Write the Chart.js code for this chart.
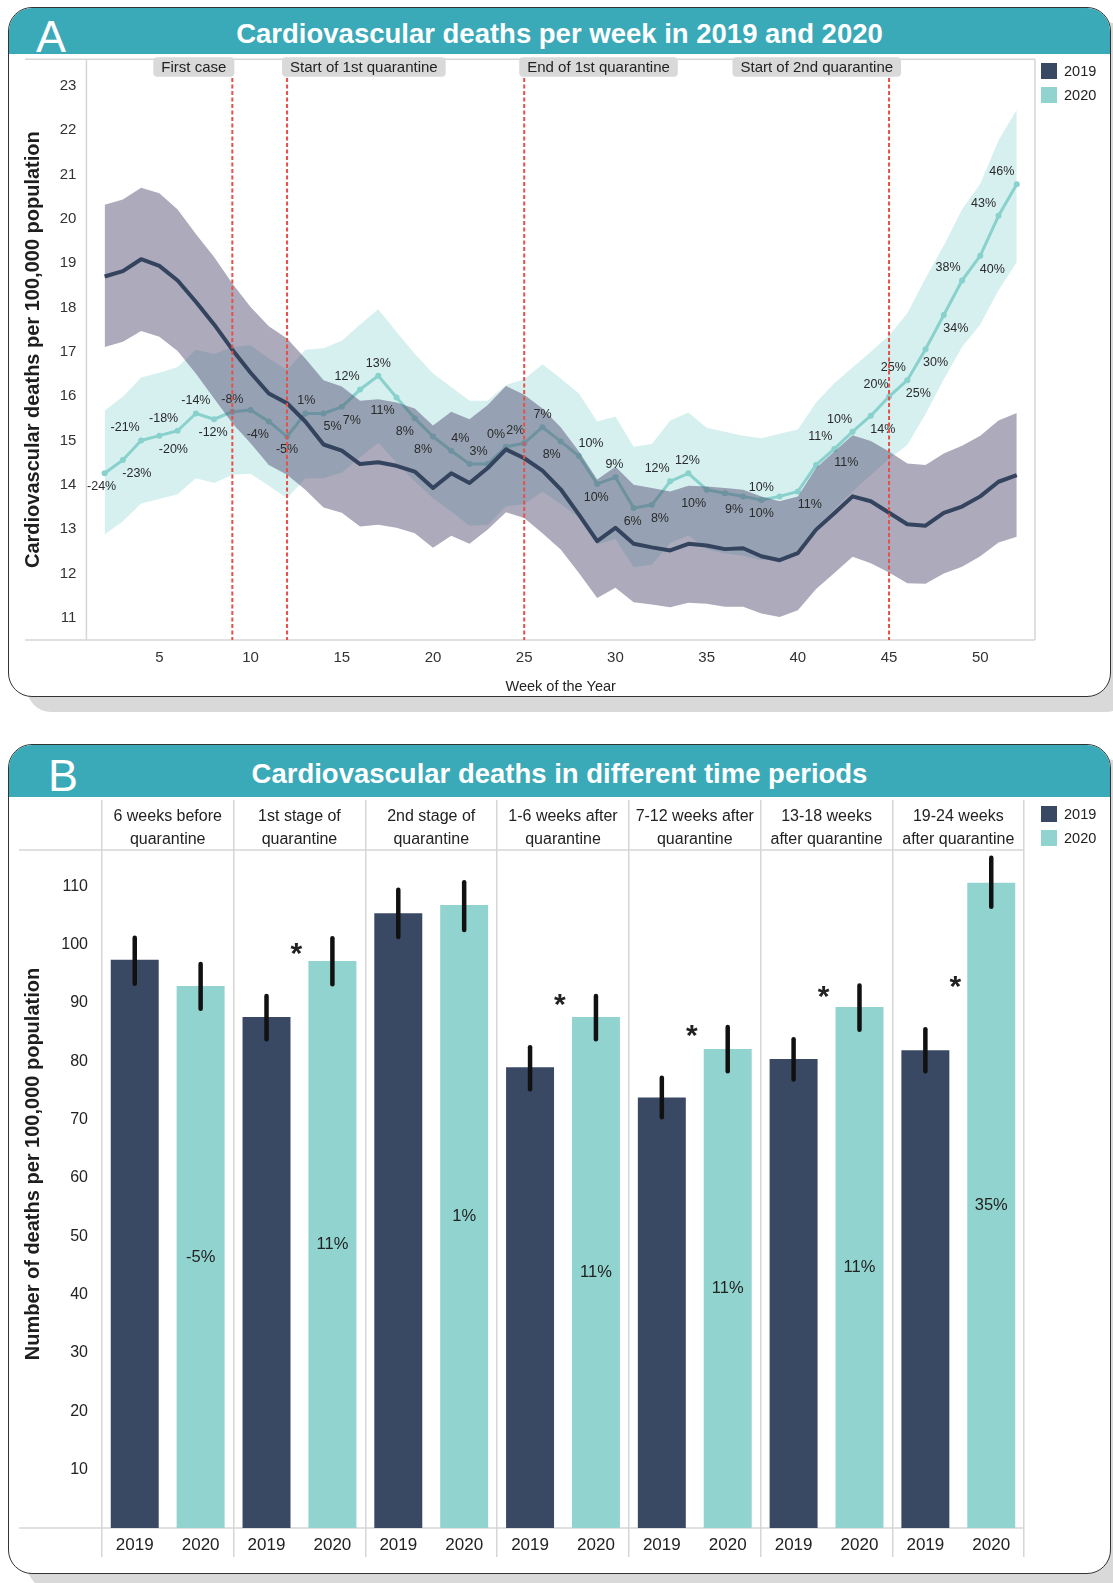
<!DOCTYPE html>
<html>
<head>
<meta charset="utf-8">
<title>Cardiovascular deaths 2019 and 2020</title>
<script src="https://cdn.jsdelivr.net/npm/chart.js@4.4.1/dist/chart.umd.min.js"></script>
<style>
  html, body { margin: 0; padding: 0; }
  body { width: 1113px; height: 1583px; position: relative; overflow: hidden; background: #fff;
         font-family: "Liberation Sans", Arial, Helvetica, sans-serif; color: #222; }
  .panel { position: absolute; left: 8px; width: 1103px; box-sizing: border-box; background: #fff;
           border: 1.5px solid #333; border-radius: 24px; box-shadow: 19px 15px 0 0 #d9d9d9; overflow: hidden; }
  #panelA { top: 7px; height: 690px; }
  #panelB { top: 744px; height: 830px; }
  .band { position: absolute; left: 0; right: 0; top: 0; background: #3aa9b8; color: #fff; }
  #panelA .band { height: 45.5px; }
  #panelB .band { height: 51.5px; }
  .letter { position: absolute; top: 0; font-size: 45px; }
  .title { position: absolute; left: 0; right: 0; top: 0; text-align: center; font-size: 27.5px; font-weight: bold; }
  #panelA .letter { left: 27px; line-height: 58px; }
  #panelA .title { line-height: 51px; }
  #panelB .letter { left: 39px; line-height: 61px; }
  #panelB .title { line-height: 57px; }
  .plot { position: absolute; left: 9px; width: 1101px; }
  #boxA { top: 55px; height: 641px; }
  #boxB { top: 798px; height: 774px; }
  .legend { position: absolute; left: 1041px; font-size: 14.5px; color: #222; }
  .legend .item { position: relative; height: 24px; width: 60px; }
  .legend .sw { position: absolute; left: 0; top: 0; width: 16px; height: 16px; }
  .legend .tx { position: absolute; left: 23px; top: 0; line-height: 17px; }
</style>
</head>
<body>
<div class="panel" id="panelA">
  <div class="band"><span class="letter">A</span><div class="title">Cardiovascular deaths per week in 2019 and 2020</div></div>
</div>
<div class="panel" id="panelB">
  <div class="band"><span class="letter">B</span><div class="title">Cardiovascular deaths in different time periods</div></div>
</div>
<div class="plot" id="boxA"><canvas id="chartA"></canvas></div>
<div class="plot" id="boxB"><canvas id="chartB"></canvas></div>
<div class="legend" id="legendA" style="top:63px"></div>
<div class="legend" id="legendB" style="top:806px"></div>

<script>
// ---- panel A: weekly series ----
const weeks = [2, 3, 4, 5, 6, 7, 8, 9, 10, 11, 12, 13, 14, 15, 16, 17, 18, 19, 20, 21, 22, 23, 24, 25, 26, 27,
  28, 29, 30, 31, 32, 33, 34, 35, 36, 37, 38, 39, 40, 41, 42, 43, 44, 45, 46, 47, 48, 49, 50, 51, 52];

const deaths2019 = [18.70, 18.82, 19.09, 18.94, 18.61, 18.13, 17.62, 17.05, 16.53, 16.06,
  15.84, 15.43, 14.91, 14.77, 14.47, 14.51, 14.43, 14.30, 13.93, 14.26,
  14.04, 14.38, 14.80, 14.60, 14.32, 13.90, 13.33, 12.73, 13.03, 12.67,
  12.59, 12.52, 12.67, 12.63, 12.55, 12.57, 12.39, 12.30, 12.46, 12.99,
  13.36, 13.74, 13.63, 13.37, 13.11, 13.08, 13.37, 13.51, 13.74, 14.07, 14.22];
const upper2019 = [20.32, 20.44, 20.70, 20.58, 20.21, 19.66, 19.14, 18.54, 18.01, 17.58,
  17.30, 16.85, 16.36, 16.22, 15.90, 15.93, 15.86, 15.72, 15.34, 15.65,
  15.48, 15.80, 16.23, 16.03, 15.72, 15.30, 14.75, 14.12, 14.41, 14.00,
  13.93, 13.85, 13.98, 13.96, 13.93, 13.89, 13.74, 13.63, 13.74, 14.38,
  14.75, 15.12, 14.99, 14.75, 14.48, 14.45, 14.71, 14.88, 15.11, 15.45, 15.62];
const lower2019 = [17.11, 17.23, 17.47, 17.34, 17.02, 16.51, 15.95, 15.39, 14.94, 14.45,
  14.23, 13.89, 13.49, 13.37, 13.06, 13.10, 13.03, 12.91, 12.58, 12.85,
  12.67, 12.99, 13.38, 13.25, 12.91, 12.54, 12.01, 11.45, 11.68, 11.35,
  11.30, 11.24, 11.34, 11.32, 11.25, 11.25, 11.10, 11.02, 11.17, 11.65,
  12.01, 12.38, 12.23, 12.02, 11.78, 11.77, 12.00, 12.15, 12.39, 12.70, 12.83];

const deaths2020 = [14.26, 14.56, 15.00, 15.11, 15.22, 15.61, 15.48, 15.65, 15.69, 15.43,
  15.09, 15.61, 15.61, 15.76, 16.15, 16.46, 15.97, 15.50, 15.09, 14.77,
  14.47, 14.47, 14.86, 14.94, 15.30, 14.98, 14.65, 14.02, 14.17, 13.48,
  13.55, 14.08, 14.26, 13.89, 13.81, 13.74, 13.66, 13.74, 13.85, 14.45,
  14.81, 15.20, 15.56, 15.99, 16.36, 17.06, 17.83, 18.61, 19.17, 20.07, 20.78];
const upper2020 = [15.68, 15.99, 16.42, 16.53, 16.66, 17.05, 16.95, 17.11, 17.15, 16.85,
  16.59, 17.05, 17.08, 17.25, 17.62, 17.96, 17.45, 16.96, 16.51, 16.21,
  15.90, 15.90, 16.25, 16.38, 16.72, 16.40, 16.06, 15.43, 15.54, 14.86,
  14.92, 15.45, 15.63, 15.29, 15.20, 15.11, 15.05, 15.15, 15.25, 15.86,
  16.29, 16.65, 17.00, 17.37, 17.87, 18.66, 19.40, 20.21, 20.79, 21.77, 22.46];
const lower2020 = [12.88, 13.18, 13.58, 13.68, 13.79, 14.15, 14.04, 14.23, 14.25, 13.98,
  13.70, 14.15, 14.15, 14.28, 14.62, 14.95, 14.50, 14.08, 13.70, 13.40,
  13.08, 13.10, 13.52, 13.56, 13.85, 13.57, 13.26, 12.66, 12.78, 12.14,
  12.20, 12.69, 12.86, 12.55, 12.45, 12.40, 12.30, 12.35, 12.45, 13.05,
  13.45, 13.85, 14.22, 14.59, 14.90, 15.60, 16.38, 17.11, 17.62, 18.39, 19.02];

// change vs 2019 printed above / below the 2020 line
const changeAbove = [null, null, '-21%', null, '-18%', '-14%', null, '-8%', null, null,
  null, '1%', null, null, '12%', '13%', null, null, null, '4%',
  '3%', null, '0%', '2%', '7%', null, '10%', null, '9%', null,
  null, '12%', '12%', null, null, null, '10%', null, null, null,
  '11%', '10%', null, '20%', '25%', null, null, '38%', null, '43%', '46%'];
const changeBelow = ['-24%', '-23%', null, '-20%', null, null, '-12%', null, null, '-4%',
  '-5%', null, '5%', '7%', null, null, '11%', '8%', '8%', null,
  null, null, null, null, null, '8%', null, '10%', null, '6%',
  '8%', null, null, '10%', null, '9%', '10%', null, '11%', null,
  '11%', null, '14%', null, '25%', '30%', '34%', null, '40%', null, null];

const xTicksA = [5, 10, 15, 20, 25, 30, 35, 40, 45, 50];
const yTicksA = [11, 12, 13, 14, 15, 16, 17, 18, 19, 20, 21, 22, 23];

const eventWeeks = [9, 12, 25, 45];
const eventNames = ['First case', 'Start of 1st quarantine', 'End of 1st quarantine', 'Start of 2nd quarantine'];

// ---- panel B: period totals ----
const periods = [['6 weeks before', 'quarantine'], ['1st stage of', 'quarantine'], ['2nd stage of', 'quarantine'],
  ['1-6 weeks after', 'quarantine'], ['7-12 weeks after', 'quarantine'], ['13-18 weeks', 'after quarantine'],
  ['19-24 weeks', 'after quarantine']];
const total2019 = [97.4, 87.6, 105.4, 79.0, 73.8, 80.4, 81.9];
const low2019 = [93.3, 83.8, 101.3, 75.2, 70.4, 76.9, 78.3];
const high2019 = [101.2, 91.2, 109.4, 82.4, 77.2, 83.8, 85.5];
const total2020 = [92.9, 97.2, 106.8, 87.6, 82.1, 89.3, 110.6];
const low2020 = [89.0, 93.2, 102.5, 83.8, 78.3, 85.4, 106.5];
const high2020 = [96.7, 101.1, 110.7, 91.2, 85.9, 93.0, 114.9];
const pctChange = ['-5%', '11%', '1%', '11%', '11%', '11%', '35%'];
const significant = [false, true, false, true, true, true, true];
const yTicksB = [10, 20, 30, 40, 50, 60, 70, 80, 90, 100, 110];

const years = ['2019', '2020'];

// ---- styles ----
const yearColors = ['#394963', '#91d3cf'];
const lineColor2019 = '#34445e';
const lineColor2020 = '#88d1cc';
const band2019 = 'rgba(78, 74, 110, 0.47)';
const band2020 = 'rgba(130, 205, 205, 0.33)';
const gridGrey = '#d6d6d6';
const fontFamily = '"Liberation Sans", Arial, Helvetica, sans-serif';
// horizontal nudges (px) of the percent labels, keyed by week
const aboveShift = {4: -16, 6: -14, 13: 1, 16: -13, 21: 9, 22: 9, 24: -10, 25: -9, 28: 12, 30: -1,
  33: -13, 34: -1, 42: -14, 43: -13, 45: -13, 46: -14, 49: -14, 51: -15, 52: -15};
const belowShift = {2: -3, 3: 14, 5: 14, 8: -1, 11: -11, 14: 9, 15: 10, 18: -14, 19: -10, 20: -10,
  27: -9, 29: -1, 31: -1, 32: 8, 35: -13, 37: -9, 40: 12, 42: 12, 44: 12, 46: 11, 47: 10, 48: 12, 50: 12};
const eventAnchor = ['right', 'left', 'left', 'right'];
const eventShift = [2, -5, -5, 12];

Chart.defaults.font.family = fontFamily;
Chart.defaults.color = '#222';
Chart.defaults.animation = false;

// legends
['legendA', 'legendB'].forEach(id => {
  document.getElementById(id).innerHTML = years.map((y, i) =>
    '<div class="item"><span class="sw" style="background:' + yearColors[i] + '"></span><span class="tx">' + y + '</span></div>').join('');
});

const pts = arr => weeks.map((w, i) => ({x: w, y: arr[i]}));
const noPad = s => { s.paddingTop = 0; s.paddingBottom = 0; s.paddingLeft = 0; s.paddingRight = 0; };

const frameA = {
  id: 'frameA',
  beforeDatasetsDraw(chart) {
    const {ctx, chartArea: a} = chart;
    ctx.save();
    ctx.strokeStyle = gridGrey;
    ctx.lineWidth = 1.5;
    ctx.beginPath();
    ctx.moveTo(16, a.top); ctx.lineTo(a.right, a.top);
    ctx.moveTo(16, a.bottom); ctx.lineTo(a.right, a.bottom);
    ctx.moveTo(a.left, a.top); ctx.lineTo(a.left, a.bottom);
    ctx.moveTo(a.right, a.top); ctx.lineTo(a.right, a.bottom);
    ctx.stroke();
    ctx.restore();
  }
};

const changeLabels = {
  id: 'changeLabels',
  afterDatasetsDraw(chart) {
    const {ctx, scales: {x, y}} = chart;
    ctx.save();
    ctx.font = '12.5px ' + fontFamily;
    ctx.fillStyle = '#2a2a2a';
    ctx.textAlign = 'center';
    ctx.textBaseline = 'middle';
    weeks.forEach((w, i) => {
      const px = x.getPixelForValue(w);
      const py = y.getPixelForValue(deaths2020[i]);
      if (changeAbove[i]) ctx.fillText(changeAbove[i], px + (aboveShift[w] || 0), py - 12.5);
      if (changeBelow[i]) ctx.fillText(changeBelow[i], px + (belowShift[w] || 0), py + 13.5);
    });
    ctx.restore();
  }
};

const eventMarks = {
  id: 'eventMarks',
  afterDatasetsDraw(chart) {
    const {ctx, chartArea: a, scales: {x}} = chart;
    ctx.save();
    ctx.font = '15px ' + fontFamily;
    eventWeeks.forEach((w, i) => {
      const px = x.getPixelForValue(w);
      ctx.strokeStyle = '#e5504a';
      ctx.lineWidth = 2;
      ctx.setLineDash([4, 2.5]);
      ctx.beginPath();
      ctx.moveTo(px, 23);
      ctx.lineTo(px, a.bottom);
      ctx.stroke();
      ctx.setLineDash([]);
      const tw = ctx.measureText(eventNames[i]).width + 16;
      const left = eventAnchor[i] === 'right' ? px + eventShift[i] - tw : px + eventShift[i];
      ctx.fillStyle = '#d9d9d9';
      ctx.beginPath();
      ctx.roundRect(left, 2.3, tw, 19.4, 4);
      ctx.fill();
      ctx.fillStyle = '#222';
      ctx.textAlign = 'center';
      ctx.textBaseline = 'middle';
      ctx.fillText(eventNames[i], left + tw / 2, 12.5);
    });
    ctx.restore();
  }
};

new Chart(document.getElementById('chartA'), {
  type: 'line',
  data: {
    datasets: [
      {label: '2019', data: pts(deaths2019), borderColor: lineColor2019, borderWidth: 4, pointRadius: 0,
       tension: 0, fill: false, order: 0, borderJoinStyle: 'round'},
      {label: '2019 low', data: pts(lower2019), borderWidth: 0, pointRadius: 0, fill: false, order: 1},
      {label: '2019 high', data: pts(upper2019), borderWidth: 0, pointRadius: 0, fill: '-1',
       backgroundColor: band2019, order: 1},
      {label: '2020', data: pts(deaths2020), borderColor: lineColor2020, borderWidth: 3, pointRadius: 3,
       pointBackgroundColor: lineColor2020, pointBorderWidth: 0, tension: 0, fill: false, order: 2, borderJoinStyle: 'round'},
      {label: '2020 low', data: pts(lower2020), borderWidth: 0, pointRadius: 0, fill: false, order: 3},
      {label: '2020 high', data: pts(upper2020), borderWidth: 0, pointRadius: 0, fill: '-1',
       backgroundColor: band2020, order: 3}
    ]
  },
  options: {
    responsive: true,
    maintainAspectRatio: false,
    layout: {autoPadding: false, padding: {top: 4.3, right: 75, left: 0, bottom: 0}},
    plugins: {legend: {display: false}, tooltip: {enabled: false}},
    scales: {
      x: {
        type: 'linear', min: 1, max: 53,
        afterBuildTicks: s => { s.ticks = xTicksA.map(v => ({value: v})); },
        afterFit: s => { s.height = 56; noPad(s); },
        grid: {display: false, drawTicks: false},
        border: {display: false},
        ticks: {font: {size: 15}, color: '#333', padding: 9, maxRotation: 0},
        title: {display: true, text: 'Week of the Year', font: {size: 14.5}, color: '#222', padding: 0}
      },
      y: {
        min: 10.5, max: 23.6,
        afterBuildTicks: s => { s.ticks = yTicksA.map(v => ({value: v})); },
        afterFit: s => { s.width = 77.4; noPad(s); },
        grid: {display: false, drawTicks: false},
        border: {display: false},
        ticks: {font: {size: 15}, color: '#333', padding: 10},
        title: {display: true, text: 'Cardiovascular deaths per 100,000 population',
                font: {size: 20, weight: 'bold'}, color: '#1e1e1e', padding: {top: 12, bottom: 0}}
      }
    }
  },
  plugins: [frameA, changeLabels, eventMarks]
});

// ---- panel B ----
const frameB = {
  id: 'frameB',
  beforeDatasetsDraw(chart) {
    const {ctx, chartArea: a} = chart;
    ctx.save();
    ctx.strokeStyle = gridGrey;
    ctx.lineWidth = 1.5;
    ctx.beginPath();
    ctx.moveTo(10, a.top + 50); ctx.lineTo(a.right, a.top + 50);
    ctx.moveTo(10, a.bottom); ctx.lineTo(a.right, a.bottom);
    ctx.stroke();
    // period headings
    ctx.fillStyle = '#222';
    ctx.font = '16px ' + fontFamily;
    ctx.textAlign = 'center';
    ctx.textBaseline = 'middle';
    const x = chart.scales.x;
    periods.forEach((p, i) => {
      const cx = x.getPixelForValue(i);
      ctx.fillText(p[0], cx, a.top + 17);
      ctx.fillText(p[1], cx, a.top + 40);
    });
    ctx.restore();
  }
};

const barExtras = {
  id: 'barExtras',
  afterDatasetsDraw(chart) {
    const {ctx, chartArea: a, scales: {y}} = chart;
    const lows = [low2019, low2020];
    const highs = [high2019, high2020];
    ctx.save();
    // error bars
    ctx.strokeStyle = '#111';
    ctx.lineWidth = 4.5;
    ctx.lineCap = 'round';
    [0, 1].forEach(d => {
      chart.getDatasetMeta(d).data.forEach((bar, i) => {
        ctx.beginPath();
        ctx.moveTo(bar.x, y.getPixelForValue(lows[d][i]));
        ctx.lineTo(bar.x, y.getPixelForValue(highs[d][i]));
        ctx.stroke();
      });
    });
    const bars20 = chart.getDatasetMeta(1).data;
    // percent change inside 2020 bars
    ctx.fillStyle = '#222';
    ctx.font = '16.5px ' + fontFamily;
    ctx.textAlign = 'center';
    ctx.textBaseline = 'middle';
    bars20.forEach((bar, i) => ctx.fillText(pctChange[i], bar.x, (bar.y + bar.base) / 2));
    // significance stars
    ctx.font = 'bold 30px ' + fontFamily;
    ctx.textBaseline = 'alphabetic';
    bars20.forEach((bar, i) => {
      if (!significant[i]) return;
      ctx.fillText('*', bar.x - bar.width / 2 - 12, y.getPixelForValue(high2019[i]) - 50 + 17);
    });
    // year under each bar
    ctx.font = '17px ' + fontFamily;
    ctx.textBaseline = 'middle';
    [0, 1].forEach(d => {
      chart.getDatasetMeta(d).data.forEach(bar => ctx.fillText(years[d], bar.x, a.bottom + 17));
    });
    ctx.restore();
  }
};

new Chart(document.getElementById('chartB'), {
  type: 'bar',
  data: {
    labels: periods,
    datasets: [
      {label: years[0], data: total2019, backgroundColor: yearColors[0], categoryPercentage: 1, barPercentage: 0.728},
      {label: years[1], data: total2020, backgroundColor: yearColors[1], categoryPercentage: 1, barPercentage: 0.728}
    ]
  },
  options: {
    responsive: true,
    maintainAspectRatio: false,
    layout: {autoPadding: false, padding: {top: 2, right: 85.8, left: 0, bottom: 0}},
    plugins: {legend: {display: false}, tooltip: {enabled: false}},
    scales: {
      x: {
        afterFit: s => { s.height = 44; noPad(s); },
        grid: {display: true, offset: true, color: gridGrey, lineWidth: 1.5, drawTicks: true,
               tickLength: 29, tickColor: gridGrey},
        border: {display: false},
        ticks: {display: false}
      },
      y: {
        min: 0, max: 124.8,
        afterBuildTicks: s => { s.ticks = yTicksB.map(v => ({value: v})); },
        afterFit: s => { s.width = 92.8; noPad(s); },
        grid: {display: false, drawTicks: false},
        border: {display: false},
        ticks: {font: {size: 16}, color: '#222', padding: 13.8},
        title: {display: true, text: 'Number of deaths per 100,000 population',
                font: {size: 20, weight: 'bold'}, color: '#1e1e1e', padding: {top: 12, bottom: 0}}
      }
    }
  },
  plugins: [frameB, barExtras]
});
</script>
</body>
</html>
